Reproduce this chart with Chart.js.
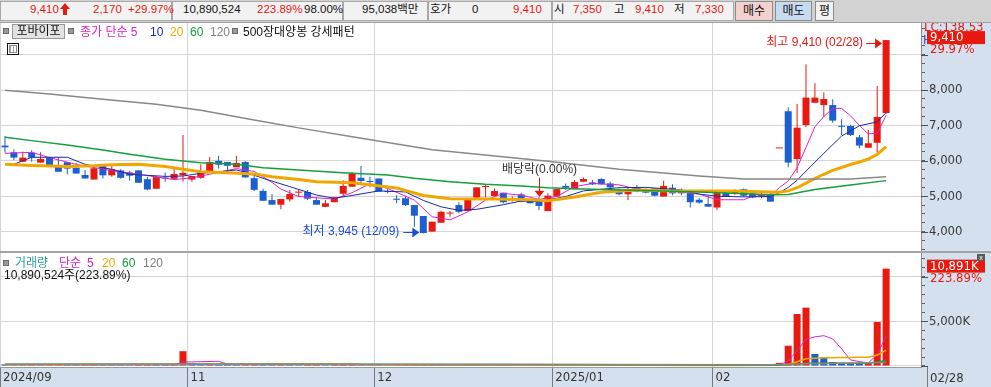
<!DOCTYPE html>
<html lang="ko">
<head>
<meta charset="utf-8">
<title>포바이포 일봉</title>
<script src="https://cdn.jsdelivr.net/npm/chart.js@4.4.1/dist/chart.umd.min.js"></script>
<style>
  body { margin:0; width:991px; height:387px; overflow:hidden; position:relative; background:#d2d2d2;
         font-family:"Liberation Sans","Noto Sans CJK KR",sans-serif; font-size:12px; color:#111; }
  .a { position:absolute; white-space:nowrap; line-height:1; }
  .r { color:#e8190f; }
  .h { font-size:11.5px; }
  .cell { position:absolute; top:1px; height:18px; background:#f2f2f2; border:1px solid #a8a8a8; }
  .btn { position:absolute; top:1px; height:18px; border:1px solid #8c8c8c; text-align:center; line-height:18px; font-size:12px; }
  .sq { position:absolute; width:4px; height:4px; background:#9a9a9a; border:1px solid #6a6a6a; }
  canvas { position:absolute; left:0; }
</style>
</head>
<body>
<!-- header -->
<div class="cell" style="left:0;width:170px"></div>
<div class="cell" style="left:172px;width:169px"></div>
<div class="cell" style="left:343px;width:83px"></div>
<div class="cell" style="left:428px;width:122px"></div>
<div class="cell" style="left:552px;width:180px"></div>
<div class="btn" style="left:735px;width:36px;background:#f2d2ce">매수</div>
<div class="btn" style="left:775px;width:35px;background:#c6dbf0">매도</div>
<div class="btn" style="left:815px;width:17px;background:#f2f2f2">평</div>

<div class="a r h" style="left:30px;top:4px">9,410</div>
<div class="a" style="left:60px;top:3px;width:0;height:0;border-left:5px solid transparent;border-right:5px solid transparent;border-bottom:6px solid #e8190f"></div>
<div class="a" style="left:63px;top:9px;width:4px;height:6px;background:#e8190f"></div>
<div class="a r h" style="left:93px;top:4px">2,170</div>
<div class="a r h" style="left:128px;top:4px">+29.97%</div>
<div class="a h" style="left:183px;top:4px">10,890,524</div>
<div class="a r h" style="left:257px;top:4px">223.89%</div>
<div class="a h" style="left:304px;top:4px">98.00%</div>
<div class="a h" style="left:362px;top:4px">95,038백만</div>
<div class="a h" style="left:430px;top:4px">호가</div>
<div class="a h" style="left:472px;top:4px">0</div>
<div class="a r h" style="left:513px;top:4px">9,410</div>
<div class="a h" style="left:554px;top:4px">시</div>
<div class="a r h" style="left:573px;top:4px">7,350</div>
<div class="a h" style="left:614px;top:4px">고</div>
<div class="a r h" style="left:635px;top:4px">9,410</div>
<div class="a h" style="left:674px;top:4px">저</div>
<div class="a r h" style="left:695px;top:4px">7,330</div>

<!-- pane backgrounds -->
<div class="a" style="left:0;top:22px;width:991px;height:1px;background:#a0a0a0"></div>
<div class="a" style="left:0;top:23px;width:922px;height:228px;background:#fff"></div>
<div class="a" style="left:922px;top:23px;width:69px;height:228px;background:#d4e0ed"></div>
<div class="a" style="left:0;top:251px;width:991px;height:2px;background:#a4a4a4"></div>
<div class="a" style="left:0;top:253px;width:922px;height:114px;background:#fff"></div>
<div class="a" style="left:922px;top:253px;width:69px;height:114px;background:#d4e0ed"></div>
<div class="a" style="left:0;top:367px;width:991px;height:20px;background:#d4e0ed"></div>
<div class="a" style="left:0;top:23px;width:1px;height:364px;background:#9a9a9a"></div>

<canvas id="priceCanvas" width="991" height="228" style="top:23px;width:991px;height:228px"></canvas>
<canvas id="volCanvas" width="991" height="134" style="top:253px;width:991px;height:134px"></canvas>

<!-- price legend -->
<div class="sq" style="left:3px;top:28px"></div>
<div class="a" style="left:12px;top:24px;width:51px;height:13px;background:#e2e2e2;border:1px solid #9a9a9a;text-align:center;line-height:13px">포바이포</div>
<div class="sq" style="left:68px;top:28px"></div>
<div class="a" style="left:80px;top:26px;color:#dd22bb">종가 단순 5</div>
<div class="a" style="left:150px;top:26px;color:#1a2aa8">10</div>
<div class="a" style="left:170px;top:26px;color:#f0a800">20</div>
<div class="a" style="left:190px;top:26px;color:#13a03a">60</div>
<div class="a" style="left:210px;top:26px;color:#808080">120</div>
<div class="sq" style="left:232px;top:28px"></div>
<div class="a" style="left:243px;top:26px">500장대양봉 강세패턴</div>
<div class="a" style="left:7px;top:43px;width:10px;height:10px;border:1px solid #111;background:#fff"></div>
<div class="a" style="left:9px;top:45px;width:6px;height:6px;border:1px solid #888;background:repeating-linear-gradient(90deg,#aaa 0 1px,#fff 1px 3px)"></div>

<!-- volume legend -->
<div class="sq" style="left:3px;top:260px"></div>
<div class="a" style="left:15px;top:257px;color:#2a9d9d">거래량</div>
<div class="a" style="left:59px;top:257px;color:#dd22bb">단순</div>
<div class="a" style="left:87px;top:257px;color:#dd22bb">5</div>
<div class="a" style="left:102px;top:257px;color:#f0a800">20</div>
<div class="a" style="left:122px;top:257px;color:#13a03a">60</div>
<div class="a" style="left:143px;top:257px;color:#808080">120</div>
<div class="a" style="left:4px;top:269px">10,890,524주(223.89%)</div>
<div class="a" style="left:977px;top:254px;width:8px;height:7px;background:#5a5a5a;color:#fff;font-size:7px;text-align:center;line-height:7px">x</div>

<!-- last date in the axis strip -->
<div class="a" style="left:927px;top:367px;width:1px;height:20px;background:#7a7a7a"></div>
<div class="a" id="lastDate" style="left:930px;top:371px;font-family:'Liberation Sans Narrow','DejaVu Sans Condensed','Liberation Sans',sans-serif;font-size:13px;color:#333"></div>

<script>
// trading days shown (one list per month)
const sep24 = [30];
const oct24 = [2,4,7,8,10,11,14,15,16,17,18,21,22,23,24,25,28,29,30,31];
const nov24 = [1,4,5,6,7,8,11,12,13,14,15,18,19,20,21,22,25,26,27,28,29];
const dec24 = [2,3,4,5,6,9,10,11,12,13,16,17,18,19,20,23,24,26,27,30];
const jan25 = [2,3,6,7,8,9,10,13,14,15,16,17,20,21,22,23,24,31];
const feb25 = [3,4,5,6,7,10,11,12,13,14,17,18,19,20,21,24,25,26,27,28];
const monthDays = [sep24, oct24, nov24, dec24, jan25, feb25];
const monthNums = ['09','10','11','12','01','02'];
const axisLabels = ['2024/09', null, '11', '12', '2025/01', '02']; // null: no label (too close to edge)

// daily prices (won)
const opens = [6430,6240,5975,6230,5950,6090,5830,5960,5800,5600, 5470,5870,5590,5730,5670,5730,5480,5210,5520,5490,
  5590,5470,5520,5665,6000,5965,5815,5965,5510,5150, 4890,4760,4910,5100,5120,4890,4700,4830,5070,5270,
  5520,5430,5500,5140,4930,4940,4750,4440,4000,4250, 4510,4750,4580,4960,5260,5005,5100,4895,5050,4890,
  4890,4580,4990,5290,5195,5410,5390,5485,5360,5145, 5055,5250,5200,5220,4990,5240,5175,5100,4900,4780,
  4680,5100,5080,5195,5080,4990,5035,6350,7400,6050, 7010,7640,7575,7575,6970,6985,6665,6370,6510,7350];
const highs = [6700,6320,6260,6300,6240,6090,6100,5960,5930,5740, 5830,5870,5890,5760,5720,5730,5550,5570,5670,5790,
  6730,5570,5900,6110,6140,5965,6140,5995,5590,5210, 5060,4920,5175,5175,5175,4970,4890,4970,5450,5680,
  5850,5550,5500,5200,5030,4990,4750,4440,4280,4580, 4580,4830,4940,5250,5335,5220,5100,4990,5100,4890,
  4987,5080,5200,5360,5460,5530,5460,5505,5410,5220, 5250,5320,5220,5220,5440,5335,5220,5130,4950,5015,
  5100,5150,5190,5220,5130,5080,5100,6350,7510,7605, 8725,8188,7934,7737,7171,7020,6729,6870,8113,9410];
const lows = [6230,6020,5975,5975,5950,5860,5690,5620,5640,5500, 5470,5500,5550,5490,5440,5380,5170,5210,5410,5490,
  5410,5410,5490,5665,5780,5650,5815,5530,5150,4870, 4760,4630,4840,4990,4890,4760,4700,4830,4990,5270,
  5360,5250,5130,5080,4800,4720,4140,3945,4000,4250, 4420,4520,4580,4890,4960,5005,4800,4850,4830,4800,
  4610,4580,4990,5175,5195,5410,5320,5335,5190,5030, 4890,5110,5080,4990,4990,5030,5030,4680,4790,4700,
  4610,4987,5040,4990,4940,4940,4845,6350,5815,5665, 6945,7640,7228,7077,6729,6700,6352,6370,6230,7330];
const closes = [6380,6090,6090,6090,6050,5860,5690,5780,5640,5500, 5790,5590,5760,5520,5580,5380,5190,5540,5500,5630,
  5660,5570,5710,5965,5890,5860,5940,5530,5180,4870, 4760,4920,5060,5110,4930,4760,4800,4970,5290,5650,
  5430,5400,5130,5120,4900,4750,4450,3960,4280,4560, 4520,4560,4940,5250,5275,5145,4830,4935,4845,4800,
  4725,5015,5200,5240,5400,5485,5335,5335,5250,5055, 5175,5130,5100,5015,5290,5080,5080,4830,4820,4705,
  5090,4990,5155,5015,4970,5030,4845,6350,5950,6935, 7785,7785,7745,7135,6960,6730,6430,6495,7240,9410];
// volume (thousand shares)
const volumes = [180,140,120,130,110,150,160,120,110,140, 170,130,120,110,100,140,180,150,110,130,
  1655,300,220,250,180,150,140,160,200,180, 150,160,140,100,110,120,100,110,180,200,
  170,130,120,90,110,120,160,200,150,130, 90,100,120,140,110,80,90,60,70,50,
  60,80,70,50,60,50,40,50,40,50, 60,40,40,50,60,40,40,60,40,50,
  70,40,40,50,40,40,50,350,2270,5817, 6525,1342,1007,447,300,290,280,300,4922,10891];

// moving averages: [candle index, value]
const ma5 = [[0,6210],[3,6240],[5,6090],[8,5900],[12,5720],[15,5620],[19,5470],[21,5520],[23,5620],[26,5780],[28,5700],
  [30,5390],[31,5200],[33,4990],[37,4920],[39,5100],[41,5350],[43,5220],[46,4890],[48,4420],[50,4330],[52,4560],
  [54,4890],[56,5080],[58,5030],[60,4910],[62,4990],[64,5270],[66,5360],[69,5320],[71,5200],[74,5175],[78,5060],
  [80,4900],[83,4900],[84,5000],[86,5010],[87,5240],[88,5430],[89,5800],[90,6380],[91,6960],[92,7250],[93,7480],
  [94,7480],[95,7270],[96,7000],[97,6760],[98,6776],[99,7280]];
const ma10 = [[1,5900],[3,6100],[7,6100],[9,5900],[12,5760],[14,5620],[18,5560],[20,5570],[22,5646],[26,5740],[27,5680],
  [29,5505],[32,5270],[35,5034],[37,4940],[39,5020],[42,5150],[45,5120],[47,4880],[49,4700],[51,4600],[53,4630],
  [56,4760],[58,4864],[60,4850],[63,4990],[65,5150],[69,5240],[72,5250],[76,5175],[78,5060],[80,5000],[83,4980],
  [86,4990],[87,5100],[88,5250],[89,5450],[90,5710],[92,6211],[94,6700],[96,6990],[98,7100],[99,7360]];
const ma20 = [[0,5900],[3,5870],[7,5840],[10,5860],[12,5890],[15,5900],[18,5840],[20,5760],[22,5690],[25,5665],[28,5630],
  [30,5550],[33,5470],[35,5410],[39,5380],[44,5230],[47,5020],[50,4930],[55,4920],[59,4900],[61,4870],[64,4980],
  [67,5110],[71,5175],[75,5150],[78,5147],[82,5150],[86,5120],[87,5110],[88,5150],[89,5240],[90,5370],[91,5500],
  [92,5620],[93,5730],[94,5810],[95,5895],[96,5965],[97,6050],[98,6180],[99,6400]];
const ma60 = [[0,6663],[3,6570],[7,6446],[11,6305],[14,6183],[18,6041],[22,5947],[26,5900],[29,5806],[33,5740],[37,5674],
  [39,5650],[43,5599],[46,5505],[50,5410],[54,5335],[58,5288],[61,5241],[65,5203],[69,5175],[73,5156],[78,5120],
  [81,5090],[86,5040],[88,5050],[91,5190],[95,5316],[99,5440]];
const ma120 = [[0,7990],[5,7890],[11,7740],[17,7600],[22,7430],[28,7150],[33,6930],[39,6680],[48,6310],[61,5990],
  [69,5760],[78,5570],[83,5485],[95,5485],[99,5550]];
const vma5 = [[0,150],[19,150],[20,440],[24,520],[25,220],[40,150],[60,80],[86,50],[87,110],[88,560],[89,1710],[90,3000],
  [91,3260],[92,3390],[93,3030],[94,1920],[95,680],[96,490],[97,350],[98,1250],[99,3360]];
const vma20 = [[0,140],[20,200],[39,230],[40,150],[60,110],[80,55],[87,70],[88,180],[89,470],[90,800],[91,860],[92,910],
  [93,930],[94,940],[95,950],[96,970],[97,980],[98,1220],[99,1760]];
const vma60 = [[0,190],[40,190],[60,160],[80,110],[87,100],[89,200],[90,310],[97,340],[98,440],[99,620]];
const vma120 = [[0,200],[60,170],[86,150],[90,250],[99,400]];

const exDivDate = '12/27';

const RED = '#e8190f', BLUE = '#1b5fd0';
const NARROW = '"Liberation Sans Narrow","DejaVu Sans Condensed","Liberation Sans",sans-serif';
const TEXTFONT = '"Liberation Sans","Noto Sans CJK KR",sans-serif';
const X_MIN = -0.56, X_MAX = 102.92;

// dates + month ticks
const dates = [], monthFirst = [];
monthDays.forEach((days, m) => {
  monthFirst.push(dates.length);
  days.forEach(d => dates.push(monthNums[m] + '/' + String(d).padStart(2, '0')));
});
const xTicks = [], xTickLabels = [];
axisLabels.forEach((lab, m) => {
  if (lab === null) return;
  xTicks.push(m === 0 ? X_MIN : monthFirst[m] - 0.5);
  xTickLabels.push(lab);
});
document.getElementById('lastDate').textContent = dates[dates.length - 1];

const idx = closes.map((_, i) => i);
const candleColor = idx.map(i => closes[i] >= opens[i] ? RED : BLUE);
const volColor = volumes.map((v, i) => (i > 0 && v >= volumes[i - 1]) ? RED : BLUE);
const fmt = v => v.toLocaleString('en-US');

function maLine(points, color, width) {
  return { type: 'line', data: points.map(([x, y]) => ({ x, y })), borderColor: color, borderWidth: width,
           pointRadius: 0, tension: 0, order: 1 };
}

function xScale(showLabels) {
  return {
    type: 'linear', min: X_MIN, max: X_MAX, offset: false,
    afterBuildTicks: s => { s.ticks = xTicks.map(v => ({ value: v })); },
    ticks: showLabels
      ? { display: true, autoSkip: false, maxRotation: 0, align: 'start', labelOffset: 3, padding: -17,
          font: { family: NARROW, size: 13 }, color: '#333', callback: (v, i) => xTickLabels[i] }
      : { display: false },
    grid: { offset: false, color: '#d4d4d4', drawTicks: showLabels, tickLength: 20, tickColor: '#7a7a7a' },
    border: { display: showLabels, color: '#9a9a9a' },
    afterFit: s => { s.height = showLabels ? 20 : 0; s.paddingLeft = 0; s.paddingRight = 0; }
  };
}

function yScale(min, max, step, major, labelOf) {
  return {
    position: 'right', min, max,
    afterBuildTicks: s => {
      const t = [];
      for (let v = Math.ceil(min / step) * step; v <= max; v += step) t.push({ value: v });
      s.ticks = t;
    },
    ticks: { autoSkip: false, padding: 4, font: { family: NARROW, size: 13 }, color: '#3a3a3a', callback: labelOf },
    grid: { color: c => (c.tick && c.tick.value % major === 0) ? '#d4d4d4' : 'rgba(0,0,0,0)',
            tickColor: '#606060', tickLength: 4 },
    border: { color: '#8c8c8c' },
    afterFit: s => { s.width = 70; s.paddingTop = 0; s.paddingBottom = 0; }
  };
}

// longer tick marks on the labelled levels
const majorTicks = {
  id: 'majorTicks',
  afterDraw(chart, args, o) {
    const s = chart.scales.y, ctx = chart.ctx;
    ctx.save();
    ctx.strokeStyle = '#505050'; ctx.lineWidth = 1;
    s.ticks.forEach(t => {
      if (t.value % o.step !== 0) return;
      const py = Math.round(s.getPixelForValue(t.value)) + 0.5;
      ctx.beginPath(); ctx.moveTo(s.left, py); ctx.lineTo(s.left + 7, py); ctx.stroke();
    });
    ctx.restore();
  }
};

// current-value box on the right axis
const lastTag = {
  id: 'lastTag',
  afterDraw(chart, args, o) {
    const s = chart.scales.y, ctx = chart.ctx, py = s.getPixelForValue(o.value), x0 = s.left;
    ctx.save();
    ctx.font = '13px ' + NARROW; ctx.textBaseline = 'middle'; ctx.textAlign = 'left';
    if (o.above) { ctx.fillStyle = RED; ctx.fillText(o.above, x0 + 3, py - 12); }
    if (o.mark) { ctx.fillStyle = BLUE; ctx.fillText(o.mark, x0 + 2, py + 1); }
    ctx.fillStyle = RED; ctx.fillRect(x0 + 6, py - 9, 58, 13);
    ctx.fillStyle = '#fff'; ctx.fillText(o.text, x0 + 9, py - 2.5);
    ctx.fillStyle = RED; ctx.fillText(o.below, x0 + 9, py + 10);
    ctx.restore();
  }
};

function arrowRight(ctx, tipX, y, color) {
  ctx.strokeStyle = color; ctx.fillStyle = color; ctx.lineWidth = 1;
  ctx.beginPath(); ctx.moveTo(tipX - 16, y + 0.5); ctx.lineTo(tipX - 6, y + 0.5); ctx.stroke();
  ctx.beginPath(); ctx.moveTo(tipX, y + 0.5); ctx.lineTo(tipX - 7, y - 4.5); ctx.lineTo(tipX - 7, y + 5.5); ctx.closePath(); ctx.fill();
}

// high / low / ex-dividend notes
const notes = {
  id: 'notes',
  afterDatasetsDraw(chart) {
    const { ctx } = chart, x = chart.scales.x, y = chart.scales.y;
    ctx.save();
    ctx.font = '12px ' + TEXTFONT; ctx.textBaseline = 'middle';
    const hiVal = Math.max(...highs), hi = highs.indexOf(hiVal);
    let tip = x.getPixelForValue(hi) - 4, py = Math.round(y.getPixelForValue(hiVal)) + 3;
    arrowRight(ctx, tip, py, RED);
    ctx.fillStyle = RED; ctx.textAlign = 'right';
    ctx.fillText('최고 ' + fmt(hiVal) + ' (' + dates[hi] + ')', tip - 19, py);

    const loVal = Math.min(...lows), lo = lows.indexOf(loVal);
    tip = x.getPixelForValue(lo) - 4; py = Math.round(y.getPixelForValue(loVal)) - 2;
    arrowRight(ctx, tip, py, '#1b4fd8');
    ctx.fillStyle = '#1b4fd8';
    ctx.fillText('최저 ' + fmt(loVal) + ' (' + dates[lo] + ')', tip - 20, py);

    const d = dates.indexOf(exDivDate);
    const cx = Math.round(x.getPixelForValue(d)) + 0.5, top = y.getPixelForValue(highs[d]);
    ctx.strokeStyle = RED; ctx.fillStyle = RED;
    ctx.beginPath(); ctx.moveTo(cx, top - 19); ctx.lineTo(cx, top - 5); ctx.stroke();
    ctx.beginPath(); ctx.moveTo(cx, top); ctx.lineTo(cx - 5, top - 6); ctx.lineTo(cx + 5, top - 6); ctx.closePath(); ctx.fill();
    ctx.fillStyle = '#333'; ctx.textAlign = 'center';
    ctx.fillText('배당락(0.00%)', cx, top - 27);
    ctx.restore();
  }
};

const common = {
  responsive: false, animation: false, events: [],
  layout: { padding: 0 }
};

new Chart(document.getElementById('priceCanvas'), {
  type: 'bar',
  data: {
    datasets: [
      { data: idx.map(i => ({ x: i, y: [lows[i], highs[i]] })), backgroundColor: candleColor,
        barThickness: 1, grouped: false, inflateAmount: 0, order: 3 },
      { data: idx.map(i => ({ x: i, y: [opens[i], closes[i]] })), backgroundColor: candleColor,
        barThickness: 7, minBarLength: 1, grouped: false, inflateAmount: 0, order: 2 },
      maLine(ma120, '#888888', 1.5),
      maLine(ma60, '#13a03a', 1.5),
      maLine(ma20, '#f0a800', 3),
      maLine(ma10, '#1a2aa8', 1),
      maLine(ma5, '#dd22cc', 1)
    ]
  },
  options: Object.assign({}, common, {
    plugins: { legend: { display: false }, tooltip: { enabled: false },
      majorTicks: { step: 1000 },
      lastTag: { value: closes[closes.length - 1], text: fmt(closes[closes.length - 1]), above: 'LC:138.53', mark: 'H', below: '29.97%' } },
    scales: {
      x: xScale(false),
      y: yScale(3452, 9893, 250, 1000, v => (v % 1000 === 0 && v <= 8000) ? fmt(v) : '')
    }
  }),
  plugins: [majorTicks, lastTag, notes]
});

new Chart(document.getElementById('volCanvas'), {
  type: 'bar',
  data: {
    datasets: [
      { data: idx.map(i => ({ x: i, y: volumes[i] })), backgroundColor: volColor,
        barThickness: 7, grouped: false, inflateAmount: 0, order: 2 },
      maLine(vma120, '#888888', 1.5),
      maLine(vma60, '#13a03a', 1.5),
      maLine(vma20, '#f0a800', 1.5),
      maLine(vma5, '#dd22cc', 1)
    ]
  },
  options: Object.assign({}, common, {
    plugins: { legend: { display: false }, tooltip: { enabled: false },
      majorTicks: { step: 5000 },
      lastTag: { value: volumes[volumes.length - 1], text: fmt(volumes[volumes.length - 1]) + 'K', below: '223.89%' } },
    scales: {
      x: xScale(true),
      y: yScale(-112, 12640, 1000, 5000, v => v === 5000 ? fmt(v) + 'K' : '')
    }
  }),
  plugins: [majorTicks, lastTag]
});
</script>
</body>
</html>
